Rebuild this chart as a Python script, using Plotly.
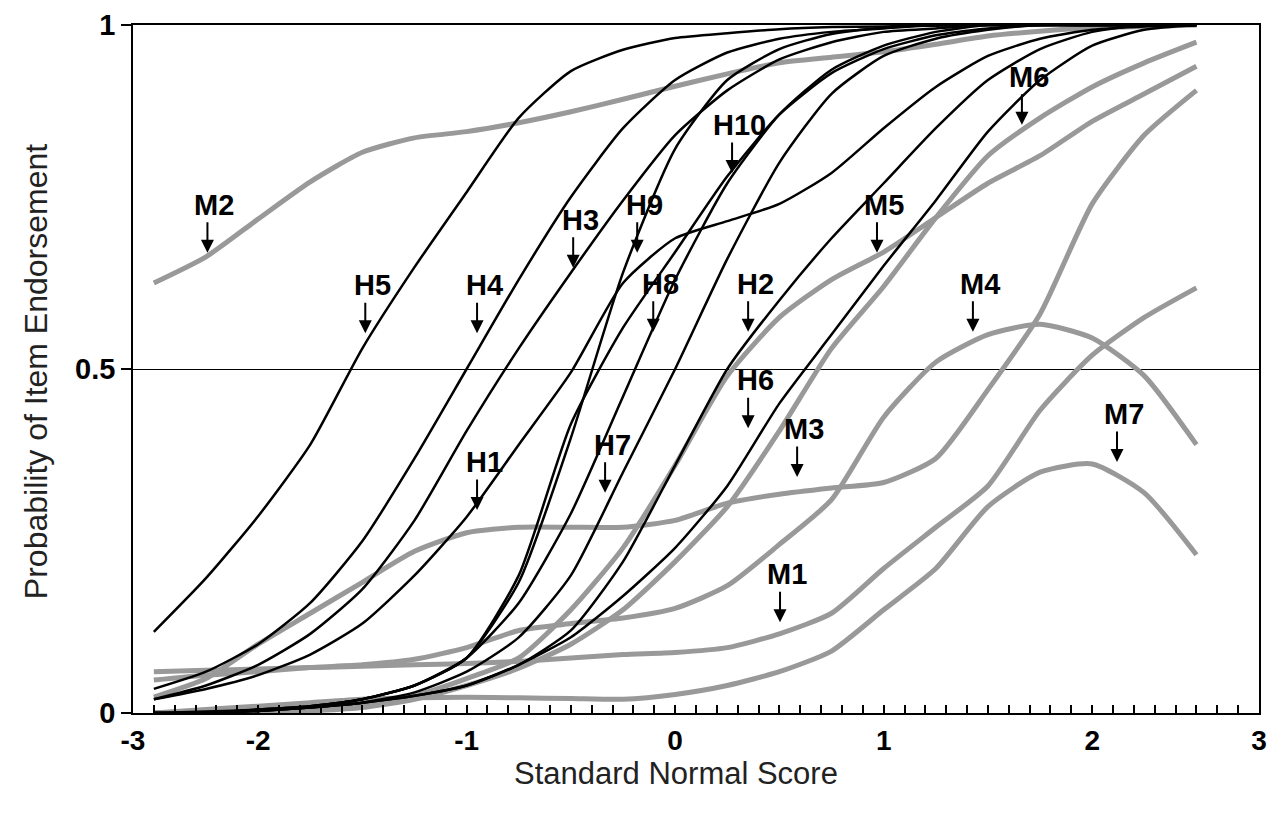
import plotly.graph_objects as go

# x grid (standard normal score)
X = [-2.5, -2.25, -2.0, -1.75, -1.5, -1.25, -1.0, -0.75, -0.5, -0.25, 0.0,
     0.25, 0.5, 0.75, 1.0, 1.25, 1.5, 1.75, 2.0, 2.25, 2.5]

# Black item curves (H items)
H1 = [0.02, 0.035, 0.055, 0.085, 0.13, 0.20, 0.285, 0.39, 0.495, 0.625, 0.69, 0.715, 0.74, 0.785, 0.85, 0.91, 0.955, 0.98, 0.993, 0.998, 1.0]
H2 = [0.0, 0.0, 0.003, 0.008, 0.015, 0.025, 0.04, 0.07, 0.12, 0.22, 0.36, 0.50, 0.60, 0.69, 0.77, 0.85, 0.92, 0.965, 0.99, 1.0, 1.0]
H3 = [0.02, 0.04, 0.07, 0.115, 0.18, 0.28, 0.41, 0.53, 0.64, 0.745, 0.84, 0.905, 0.95, 0.975, 0.99, 0.995, 1.0, 1.0, 1.0, 1.0, 1.0]
H4 = [0.035, 0.06, 0.10, 0.16, 0.25, 0.37, 0.50, 0.63, 0.75, 0.85, 0.92, 0.96, 0.98, 0.99, 0.995, 1.0, 1.0, 1.0, 1.0, 1.0, 1.0]
H5 = [0.118, 0.196, 0.286, 0.39, 0.53, 0.648, 0.757, 0.865, 0.933, 0.964, 0.981, 0.988, 0.994, 0.997, 0.998, 0.999, 1.0, 1.0, 1.0, 1.0, 1.0]
H6 = [0.0, 0.0, 0.003, 0.008, 0.015, 0.025, 0.04, 0.07, 0.11, 0.17, 0.24, 0.33, 0.45, 0.55, 0.65, 0.745, 0.845, 0.92, 0.97, 0.993, 1.0]
H7 = [0.0, 0.0, 0.003, 0.008, 0.015, 0.03, 0.06, 0.11, 0.20, 0.35, 0.50, 0.66, 0.80, 0.90, 0.955, 0.98, 0.993, 1.0, 1.0, 1.0, 1.0]
H8 = [0.0, 0.0, 0.005, 0.01, 0.02, 0.04, 0.08, 0.16, 0.29, 0.46, 0.63, 0.77, 0.87, 0.935, 0.97, 0.99, 1.0, 1.0, 1.0, 1.0, 1.0]
H9 = [0.0, 0.0, 0.005, 0.01, 0.02, 0.04, 0.08, 0.19, 0.40, 0.64, 0.82, 0.92, 0.965, 0.987, 0.996, 1.0, 1.0, 1.0, 1.0, 1.0, 1.0]
H10 = [0.0, 0.002, 0.005, 0.01, 0.02, 0.04, 0.08, 0.20, 0.42, 0.56, 0.67, 0.78, 0.87, 0.93, 0.965, 0.985, 0.995, 1.0, 1.0, 1.0, 1.0]

# Gray item curves (M items)
M1 = [0.06, 0.062, 0.064, 0.066, 0.068, 0.07, 0.072, 0.075, 0.08, 0.085, 0.088, 0.095, 0.115, 0.145, 0.21, 0.27, 0.33, 0.44, 0.52, 0.575, 0.618]
M2 = [0.625, 0.663, 0.718, 0.772, 0.815, 0.836, 0.845, 0.858, 0.874, 0.892, 0.911, 0.929, 0.945, 0.953, 0.961, 0.972, 0.984, 0.991, 0.996, 0.998, 1.0]
M3 = [0.023, 0.05, 0.10, 0.145, 0.19, 0.235, 0.262, 0.27, 0.27, 0.27, 0.28, 0.305, 0.318, 0.327, 0.335, 0.37, 0.47, 0.58, 0.74, 0.84, 0.905]
M4 = [0.048, 0.055, 0.06, 0.066, 0.07, 0.078, 0.095, 0.12, 0.13, 0.138, 0.152, 0.185, 0.245, 0.31, 0.43, 0.51, 0.55, 0.565, 0.545, 0.49, 0.39]
M5 = [0.0, 0.0, 0.0, 0.005, 0.01, 0.025, 0.05, 0.08, 0.15, 0.24, 0.36, 0.49, 0.575, 0.63, 0.67, 0.72, 0.77, 0.81, 0.86, 0.90, 0.94]
M6 = [0.0, 0.0, 0.0, 0.003, 0.008, 0.02, 0.04, 0.065, 0.10, 0.15, 0.22, 0.30, 0.41, 0.53, 0.62, 0.72, 0.81, 0.865, 0.91, 0.945, 0.975]
M7 = [0.0, 0.005, 0.01, 0.015, 0.02, 0.022, 0.023, 0.022, 0.021, 0.02, 0.027, 0.04, 0.06, 0.09, 0.15, 0.21, 0.30, 0.35, 0.362, 0.32, 0.23]

H_NAMES = ["H1", "H2", "H3", "H4", "H5", "H6", "H7", "H8", "H9", "H10"]
H_SERIES = [H1, H2, H3, H4, H5, H6, H7, H8, H9, H10]
M_NAMES = ["M1", "M2", "M3", "M4", "M5", "M6", "M7"]
M_SERIES = [M1, M2, M3, M4, M5, M6, M7]

# Label annotations: (text, x of arrow tip, y of arrow tip)
LABELS = [
    ("M2", -2.243, 0.669), ("H5", -1.486, 0.552), ("H4", -0.950, 0.552),
    ("H3", -0.489, 0.647), ("H9", -0.182, 0.669), ("H10", 0.273, 0.785),
    ("H8", -0.105, 0.554), ("H2", 0.350, 0.554), ("M5", 0.968, 0.669),
    ("M6", 1.663, 0.855), ("M4", 1.428, 0.554), ("H1", -0.950, 0.295),
    ("H6", 0.350, 0.414), ("H7", -0.336, 0.320), ("M3", 0.585, 0.343),
    ("M1", 0.503, 0.132), ("M7", 2.119, 0.365),
]

X_TICKVALS = [-2.6, -2.0, -1.0, 0.0, 1.0, 2.0, 2.8]
X_TICKTEXT = ["-3", "-2", "-1", "0", "1", "2", "3"]
Y_TICKVALS = [0, 0.5, 1]
Y_TICKTEXT = ["0", "0.5", "1"]

FONT = "Liberation Sans, Arial, sans-serif"

fig = go.Figure()
for name, ys in zip(M_NAMES, M_SERIES):
    fig.add_trace(go.Scatter(x=X, y=ys, mode="lines", name=name,
                             line=dict(color="#999999", width=5, shape="spline", smoothing=0.6)))
for name, ys in zip(H_NAMES, H_SERIES):
    fig.add_trace(go.Scatter(x=X, y=ys, mode="lines", name=name,
                             line=dict(color="black", width=2.5, shape="spline", smoothing=0.6)))

for text, x, y in LABELS:
    fig.add_annotation(x=x, y=y, xref="x", yref="y", text="", showarrow=True,
                       ax=0, ay=-32, arrowhead=2, arrowsize=1.3, arrowwidth=2,
                       arrowcolor="black", standoff=0)
    fig.add_annotation(x=x, y=y, xref="x", yref="y", text="<b>%s</b>" % text,
                       showarrow=False, yshift=48, xshift=7,
                       font=dict(family=FONT, size=29, color="black"))

fig.add_annotation(text="Probability of Item Endorsement", xref="paper", yref="paper",
                   x=-0.0867, y=0.496, xanchor="center", yanchor="middle",
                   showarrow=False, textangle=-90,
                   font=dict(family=FONT, size=32, color="#222222"))
fig.add_annotation(text="Standard Normal Score", xref="paper", yref="paper",
                   x=0.4824, y=-0.0885, xanchor="center", yanchor="middle",
                   showarrow=False,
                   font=dict(family=FONT, size=31, color="#222222"))

fig.update_layout(
    width=1270, height=798,
    margin=dict(l=125, r=19, t=17, b=93, autoexpand=False),
    plot_bgcolor="white", paper_bgcolor="white",
    showlegend=False,
    xaxis=dict(range=[-2.6, 2.8], tickmode="array", tickvals=X_TICKVALS, ticktext=X_TICKTEXT,
               ticks="inside", ticklen=8, tickwidth=1.5, tickcolor="black",
               showline=True, linecolor="black", linewidth=1.5, mirror=True,
               showgrid=False, zeroline=False, ticklabelstandoff=2, automargin=False,
               tickfont=dict(family=FONT, size=28, color="black", weight="bold"),
               minor=dict(tickmode="linear", tick0=0, dtick=0.1, ticks="inside",
                          ticklen=8, tickwidth=1.5, tickcolor="black", showgrid=False)),
    yaxis=dict(range=[0, 1], tickmode="array", tickvals=Y_TICKVALS, ticktext=Y_TICKTEXT,
               ticks="outside", ticklen=10, tickwidth=1.5, tickcolor="black",
               showline=True, linecolor="black", linewidth=1.5, mirror=True,
               showgrid=True, gridcolor="black", gridwidth=1, zeroline=False,
               automargin=False,
               tickfont=dict(family=FONT, size=29, color="black", weight="bold")),
)

fig.write_html("out.html")
